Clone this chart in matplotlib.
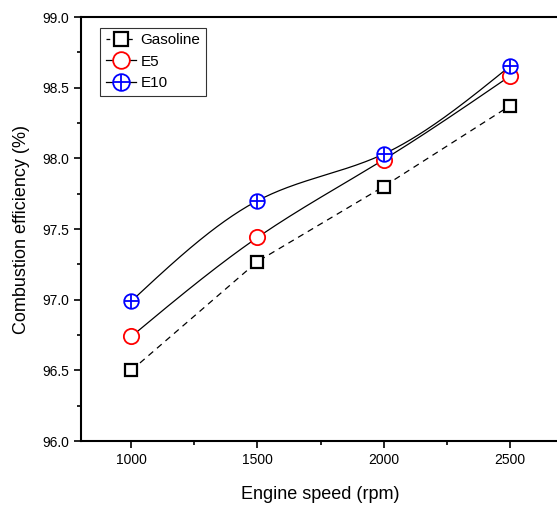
import numpy as np
import matplotlib.pyplot as plt
from matplotlib.ticker import MultipleLocator

plt.rcParams['font.family'] = ['Liberation Sans', 'DejaVu Sans']

speed = [1000, 1500, 2000, 2500]
gasoline = [96.50, 97.27, 97.80, 98.37]
e5 = [96.74, 97.44, 97.99, 98.58]
e10 = [96.99, 97.70, 98.03, 98.65]


def spline(x, y, n=200):
    # natural cubic spline through the points, only for drawing the curve
    x = np.asarray(x, float)
    y = np.asarray(y, float)
    h = np.diff(x)
    k = len(x)
    A = np.zeros((k, k))
    b = np.zeros(k)
    A[0, 0] = A[-1, -1] = 1
    for i in range(1, k - 1):
        A[i, i - 1] = h[i - 1]
        A[i, i] = 2 * (h[i - 1] + h[i])
        A[i, i + 1] = h[i]
        b[i] = 6 * ((y[i + 1] - y[i]) / h[i] - (y[i] - y[i - 1]) / h[i - 1])
    M = np.linalg.solve(A, b)
    xs = np.linspace(x[0], x[-1], n)
    idx = np.clip(np.searchsorted(x, xs) - 1, 0, k - 2)
    t0 = xs - x[idx]
    t1 = x[idx + 1] - xs
    hi = h[idx]
    ys = (M[idx] * t1 ** 3 + M[idx + 1] * t0 ** 3) / (6 * hi) \
        + (y[idx] / hi - M[idx] * hi / 6) * t1 \
        + (y[idx + 1] / hi - M[idx + 1] * hi / 6) * t0
    return xs, ys


fig = plt.figure(figsize=(5.57, 5.05), dpi=100)
ax = fig.add_axes([81 / 557, 1 - 441 / 505, 479 / 557, 424 / 505])

ax.plot(speed, gasoline, color='black', lw=0.9, ls=(0, (5, 4)))
xs, ys = spline(speed, e5)
ax.plot(xs, ys, color='black', lw=0.9)
xs, ys = spline(speed, e10)
ax.plot(xs, ys, color='black', lw=0.9)

ax.plot(speed, gasoline, 's', ms=9, mfc='white', mec='black', mew=1.6)
ax.plot(speed, e5, 'o', ms=11, mfc='white', mec='red', mew=1.3)
ax.plot(speed, e10, 'o', ms=10.5, mfc='white', mec='blue', mew=1.3)
ax.plot(speed, e10, '+', ms=10.5, mec='blue', mew=1.3)

h1, = ax.plot([], [], color='black', lw=0.9, ls=(0, (3, 3)), marker='s',
              ms=10, mfc='white', mec='black', mew=1.6)
h2, = ax.plot([], [], color='black', lw=0.9, marker='o', ms=12,
              mfc='white', mec='red', mew=1.3)
h3a, = ax.plot([], [], color='black', lw=0.9, marker='o', ms=12,
               mfc='white', mec='blue', mew=1.3)
h3b, = ax.plot([], [], ls='none', marker='+', ms=12, mec='blue', mew=1.3)
leg = ax.legend([h1, h2, (h3a, h3b)], ['Gasoline', 'E5', 'E10'],
                loc='upper left', bbox_to_anchor=(0.04, 0.975), fontsize=11,
                frameon=True, fancybox=False, edgecolor='black',
                handlelength=2.0, handletextpad=0.3, borderpad=0.35,
                labelspacing=0.5, borderaxespad=0)
leg.get_frame().set_linewidth(0.8)

ax.set_xlim(800, 2700)
ax.set_ylim(96.0, 99.0)
ax.xaxis.set_major_locator(MultipleLocator(500))
ax.xaxis.set_minor_locator(MultipleLocator(250))
ax.yaxis.set_major_locator(MultipleLocator(0.5))
ax.yaxis.set_minor_locator(MultipleLocator(0.25))
ax.yaxis.set_major_formatter(lambda v, p: f'{v:.1f}')
ax.tick_params(which='both', direction='out', labelsize=10, width=1.2)
ax.tick_params(which='major', length=5)
ax.tick_params(which='minor', length=3)
ax.spines['right'].set_visible(False)
for s in ['left', 'top', 'bottom']:
    ax.spines[s].set_linewidth(1.5)

ax.set_xlabel('Engine speed (rpm)', fontsize=13, labelpad=14)
ax.set_ylabel('Combustion efficiency (%)', fontsize=13, labelpad=9)

fig.savefig('out.png', dpi=100)
